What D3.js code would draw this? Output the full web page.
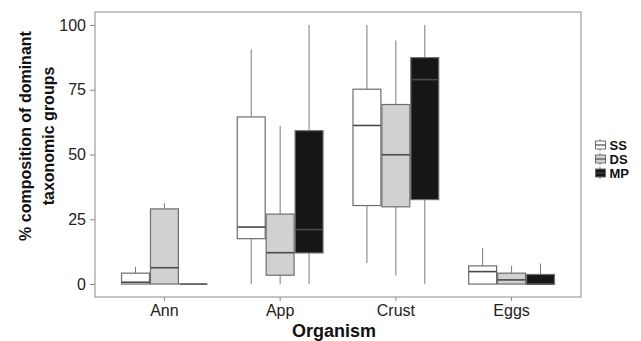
<!DOCTYPE html>
<html>
<head>
<meta charset="utf-8">
<script src="https://cdn.jsdelivr.net/npm/d3@7"></script>
<style>
  body { margin: 0; background: #fff; }
  svg text { font-family: "Liberation Sans", Arial, sans-serif; }
</style>
</head>
<body>
<div id="chart"></div>
<script>
const organisms = ["Ann", "App", "Crust", "Eggs"];
const sites = ["SS", "DS", "MP"];
const siteFill = ["#ffffff", "#d0d1d1", "#161616"];

// box stats per site, one value per organism
const whiskerLow = { SS: [0, 0, 8.1, 0],     DS: [0, 0, 3.3, 0],     MP: [0, 0, 0, 0] };
const q1 =         { SS: [0, 17.5, 30.3, 0], DS: [0, 3.4, 29.8, 0],  MP: [0, 12, 32.6, 0] };
const median =     { SS: [0.7, 22, 61.2, 4.8], DS: [6.3, 12.1, 49.9, 1.6], MP: [0, 21, 78.9, 0] };
const q3 =         { SS: [4.2, 64.5, 75.2, 7], DS: [29, 27, 69.3, 4.2], MP: [0, 59.2, 87.4, 3.7] };
const whiskerHigh ={ SS: [6.6, 90.6, 100, 13.9], DS: [31.2, 61, 94, 7], MP: [0, 100, 100, 7.9] };
const yTicks = [0, 25, 50, 75, 100];

const width = 641, height = 341;
const panel = { left: 95, right: 581, top: 12, bottom: 297 };

const svg = d3.select("#chart").append("svg")
    .attr("width", width)
    .attr("height", height);

let x = d3.scaleBand()
    .domain(organisms)
    .range([panel.left, panel.right])
    .paddingInner(0.25)
    .paddingOuter(0.225);

let xInner = d3.scaleBand()
    .domain(sites)
    .range([0, x.bandwidth()]);

let y = d3.scaleLinear()
    .domain([-5, 105])
    .range([panel.bottom, panel.top]);

// build rows for drawing
let rows = [];
sites.forEach((s, si) => {
  organisms.forEach((o, oi) => {
    rows.push({
      org: o, site: s, fill: siteFill[si],
      lo: whiskerLow[s][oi], q1: q1[s][oi], med: median[s][oi],
      q3: q3[s][oi], hi: whiskerHigh[s][oi]
    });
  });
});

let boxes = svg.append("g").selectAll("g.box")
    .data(rows)
  .enter().append("g")
    .attr("class", "box")
    .attr("transform", d => "translate(" + (x(d.org) + xInner(d.site)) + ",0)");

let bw = xInner.bandwidth();

// whiskers
boxes.append("line")
    .attr("x1", bw / 2).attr("x2", bw / 2)
    .attr("y1", d => y(d.q3)).attr("y2", d => y(d.hi))
    .attr("stroke", "#7a7a7a").attr("stroke-width", 1);
boxes.append("line")
    .attr("x1", bw / 2).attr("x2", bw / 2)
    .attr("y1", d => y(d.lo)).attr("y2", d => y(d.q1))
    .attr("stroke", "#7a7a7a").attr("stroke-width", 1);

// boxes
boxes.append("rect")
    .attr("x", 0.5)
    .attr("width", bw - 1)
    .attr("y", d => y(d.q3))
    .attr("height", d => Math.max(0, y(d.q1) - y(d.q3)))
    .attr("fill", d => d.fill)
    .attr("stroke", "#6e6e6e")
    .attr("stroke-width", 1.2);

// medians
boxes.append("line")
    .attr("x1", 0.5).attr("x2", bw - 0.5)
    .attr("y1", d => y(d.med)).attr("y2", d => y(d.med))
    .attr("stroke", "#4a4a4a").attr("stroke-width", 1.6);

// panel border
svg.append("rect")
    .attr("x", panel.left).attr("y", panel.top)
    .attr("width", panel.right - panel.left)
    .attr("height", panel.bottom - panel.top)
    .attr("fill", "none")
    .attr("stroke", "#8a8a8a")
    .attr("stroke-width", 1);

// y axis
let yAxis = d3.axisLeft(y)
    .tickValues(yTicks)
    .tickSize(5)
    .tickPadding(4)
    .tickSizeOuter(0);
let gy = svg.append("g")
    .attr("transform", "translate(" + panel.left + ",0)")
    .call(yAxis);
gy.select(".domain").remove();
gy.selectAll(".tick line").attr("stroke", "#8a8a8a");
gy.selectAll(".tick text")
    .attr("font-size", 16)
    .attr("fill", "#222");

// x axis
let xAxis = d3.axisBottom(x)
    .tickSize(4)
    .tickPadding(4)
    .tickSizeOuter(0);
let gx = svg.append("g")
    .attr("transform", "translate(0," + panel.bottom + ")")
    .call(xAxis);
gx.select(".domain").remove();
gx.selectAll(".tick line").attr("stroke", "#8a8a8a");
gx.selectAll(".tick text")
    .attr("font-size", 16)
    .attr("fill", "#222");

// axis titles
svg.append("text")
    .attr("x", (panel.left + panel.right) / 2 - 4)
    .attr("y", 337)
    .attr("text-anchor", "middle")
    .attr("font-size", 18)
    .attr("font-weight", "bold")
    .attr("fill", "#111")
    .text("Organism");

let yt = svg.append("text")
    .attr("transform", "translate(0,136) rotate(-90)")
    .attr("text-anchor", "middle")
    .attr("font-size", 16)
    .attr("font-weight", "bold")
    .attr("fill", "#111");
yt.append("tspan").attr("x", 0).attr("y", 31).text("% composition of dominant");
yt.append("tspan").attr("x", 0).attr("y", 54).text("taxonomic groups");

// legend
let legend = svg.append("g").selectAll("g")
    .data(sites)
  .enter().append("g")
    .attr("transform", (d, i) => "translate(595," + (145 + i * 14) + ")");
legend.append("line")
    .attr("x1", 5).attr("x2", 5).attr("y1", -6).attr("y2", 6)
    .attr("stroke", "#7a7a7a");
legend.append("rect")
    .attr("x", 0.5).attr("y", -4).attr("width", 10).attr("height", 8)
    .attr("fill", (d, i) => siteFill[i])
    .attr("stroke", "#6e6e6e");
legend.append("line")
    .attr("x1", 0.5).attr("x2", 10.5).attr("y1", 0).attr("y2", 0)
    .attr("stroke", "#4a4a4a").attr("stroke-width", 1.2);
legend.append("text")
    .attr("x", 14.5).attr("y", 0).attr("dy", "0.36em")
    .attr("font-size", 13)
    .attr("font-weight", "bold")
    .attr("fill", "#111")
    .text(d => d);
</script>
</body>
</html>
